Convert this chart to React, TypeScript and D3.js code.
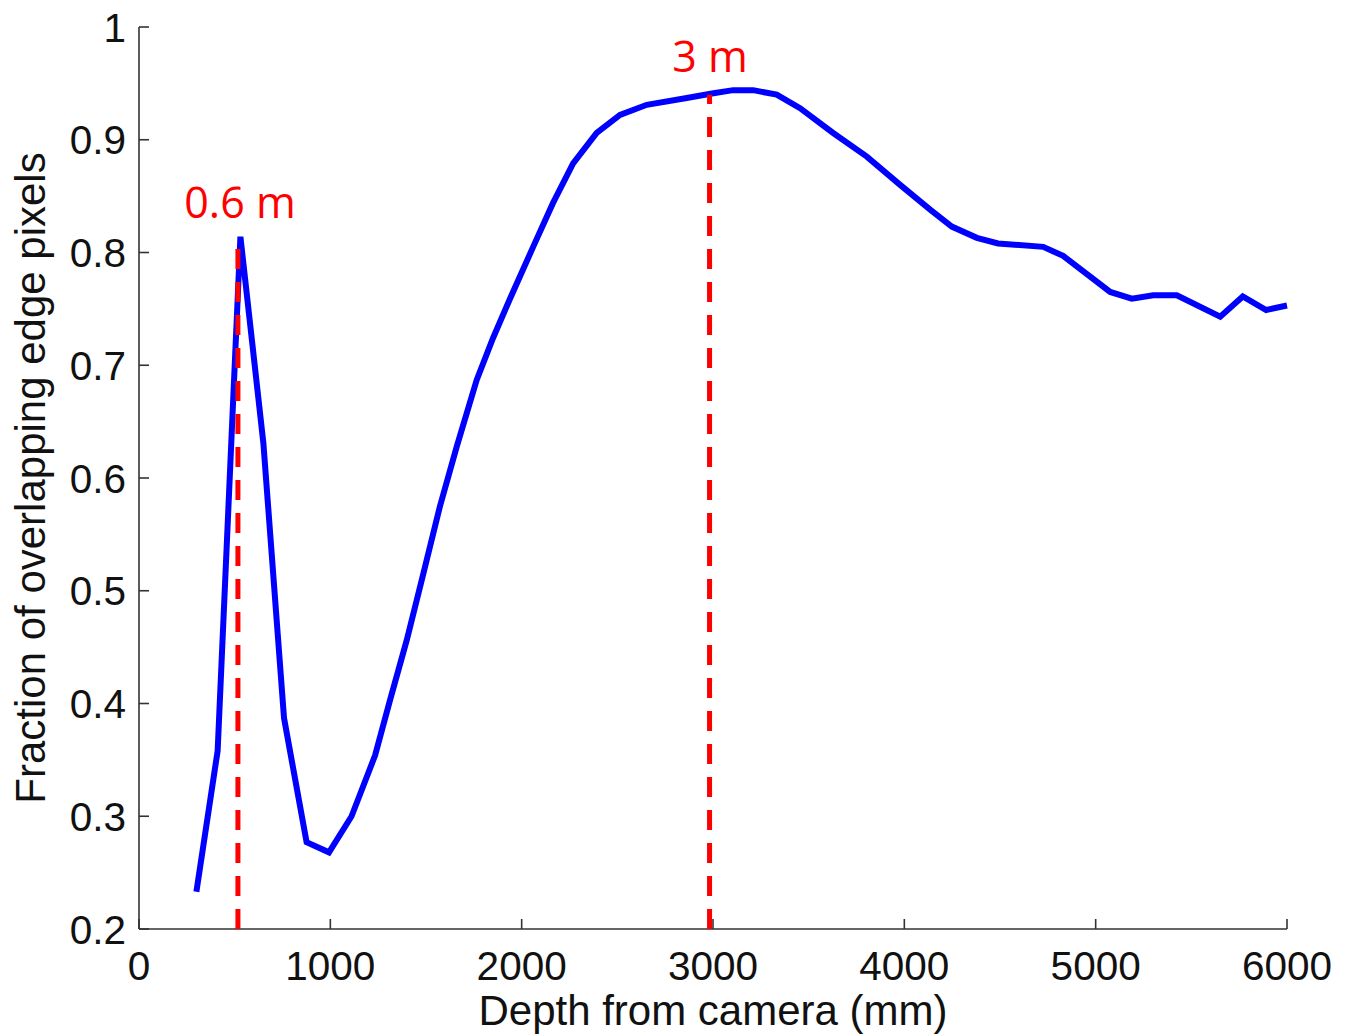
import React from "react";
import * as d3 from "d3";

const depthMm = [300, 411, 530, 650, 758, 876, 993, 1111, 1234, 1312, 1399, 1486, 1573, 1661, 1765, 1850, 1939, 2060, 2164, 2269, 2392, 2514, 2654, 2863, 2994, 3105, 3210, 3333, 3455, 3628, 3804, 3978, 4135, 4248, 4379, 4490, 4726, 4830, 5076, 5189, 5301, 5424, 5651, 5769, 5891, 6000];
const fraction = [0.233, 0.358, 0.814, 0.631, 0.387, 0.277, 0.268, 0.300, 0.354, 0.403, 0.456, 0.515, 0.575, 0.628, 0.687, 0.724, 0.759, 0.805, 0.844, 0.879, 0.906, 0.922, 0.931, 0.937, 0.941, 0.944, 0.944, 0.940, 0.928, 0.906, 0.885, 0.860, 0.838, 0.823, 0.813, 0.808, 0.805, 0.797, 0.765, 0.759, 0.762, 0.762, 0.743, 0.761, 0.749, 0.753];

const xTicks = [0, 1000, 2000, 3000, 4000, 5000, 6000];
const yTicks = [0.2, 0.3, 0.4, 0.5, 0.6, 0.7, 0.8, 0.9, 1];
const yTickLabels = ["0.2", "0.3", "0.4", "0.5", "0.6", "0.7", "0.8", "0.9", "1"];

const markerDepth = [517, 2982];
const markerTop = [0.81, 0.94];
const markerLabels = ["0.6 m", "3 m"];

export default function App() {
  const W = 1356, H = 1036;
  const left = 139, right = 1287, top = 27, bottom = 929;
  const x = d3.scaleLinear().domain([0, 6000]).range([left, right]);
  const y = d3.scaleLinear().domain([0.2, 1]).range([bottom, top]);
  const pts = depthMm.map((d, i) => [d, fraction[i]] as [number, number]);
  const line = d3.line<[number, number]>().x(d => x(d[0])).y(d => y(d[1])).curve(d3.curveLinear);
  const font = "'Liberation Sans', Arial, sans-serif";
  const axisColor = "#333";
  return (
    <svg width={W} height={H} style={{ position: "absolute", left: 0, top: 0, background: "#fff" }}>
      <rect x={0} y={0} width={W} height={H} fill="#fff" />
      <line x1={left} y1={top} x2={left} y2={bottom} stroke={axisColor} strokeWidth={1.6} />
      <line x1={left} y1={bottom} x2={right} y2={bottom} stroke={axisColor} strokeWidth={1.6} />
      {xTicks.map(t => (
        <g key={"xt" + t}>
          <line x1={x(t)} x2={x(t)} y1={bottom} y2={bottom - 10} stroke={axisColor} strokeWidth={1.6} />
          <text x={x(t)} y={980} textAnchor="middle" fontFamily={font} fontSize={40.5} fill="#111">{t}</text>
        </g>
      ))}
      {yTicks.map((t, i) => (
        <g key={"yt" + t}>
          <line x1={left} x2={left + 10} y1={y(t)} y2={y(t)} stroke={axisColor} strokeWidth={1.6} />
          <text x={126} y={y(t)} dy="0.36em" textAnchor="end" fontFamily={font} fontSize={40.5} fill="#111">{yTickLabels[i]}</text>
        </g>
      ))}
      <text x={(left + right) / 2} y={1025} textAnchor="middle" fontFamily={font} fontSize={42} fill="#111">Depth from camera (mm)</text>
      <text transform={`translate(45, ${(top + bottom) / 2}) rotate(-90)`} textAnchor="middle" fontFamily={font} fontSize={42} fill="#111">Fraction of overlapping edge pixels</text>
      <path d={line(pts) || ""} fill="none" stroke="#0000ff" strokeWidth={6} strokeLinejoin="miter" strokeMiterlimit={10} />
      {markerDepth.map((m, i) => (
        <g key={"m" + i}>
          <line x1={x(m)} x2={x(m)} y1={y(0.2)} y2={y(markerTop[i])} stroke="#ff0000" strokeWidth={5} strokeDasharray="20 13" />
        </g>
      ))}
      <text x={240} y={218} textAnchor="middle" fontFamily="'Open Sans', sans-serif" fontSize={43} fill="#ff0000">{markerLabels[0]}</text>
      <text x={710} y={72} textAnchor="middle" fontFamily="'Open Sans', sans-serif" fontSize={43} fill="#ff0000">{markerLabels[1]}</text>
    </svg>
  );
}
